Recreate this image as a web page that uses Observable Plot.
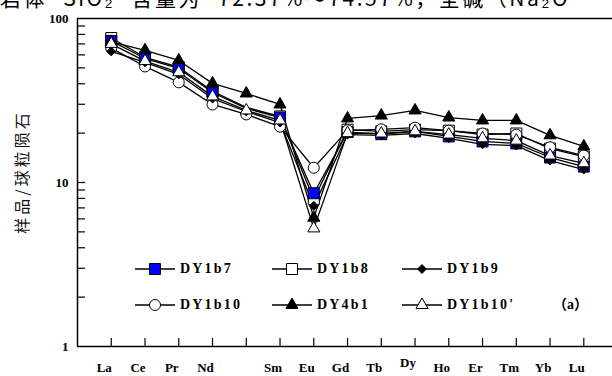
<!DOCTYPE html>
<html><head><meta charset="utf-8">
<script src="https://cdn.jsdelivr.net/npm/d3@7"></script>
<script src="https://cdn.jsdelivr.net/npm/@observablehq/plot@0.6"></script>
<style>
body{margin:0;background:#fff;}
#wrap{position:relative;width:612px;height:376px;overflow:hidden;background:#fff;}
#wrap svg.plot{position:absolute;left:0;top:0;}
.lab{position:absolute;font-family:"Liberation Serif","Times New Roman",serif;font-weight:bold;font-size:14px;letter-spacing:2.2px;line-height:20px;white-space:nowrap;color:#000;}
.sym{position:absolute;}
#header{position:absolute;left:0;top:-13px;font-family:"Noto Sans CJK SC",sans-serif;font-size:21px;line-height:21px;letter-spacing:2.5px;word-spacing:9px;white-space:nowrap;color:#000;}
#ytitle{position:absolute;left:21px;top:172px;transform:translate(-50%,-50%) rotate(-90deg);font-family:"Noto Sans CJK SC",sans-serif;font-size:16px;letter-spacing:3px;white-space:nowrap;color:#111;}
</style></head><body><div id="wrap"></div>
<script>
// ---- data ----
const elements = ["La","Ce","Pr","Nd","Pm","Sm","Eu","Gd","Tb","Dy","Ho","Er","Tm","Yb","Lu"];
const elementLabels = ["La","Ce","Pr","Nd","","Sm","Eu","Gd","Tb","Dy","Ho","Er","Tm","Yb","Lu"];
const seriesNames = ["DY1b7","DY1b8","DY1b9","DY1b10","DY4b1","DY1b10'"];
const DY1b7   = [73, 57, 49.6, 35.4, 28.3, 24.9, 8.6, 20.3, 19.7, 20.5, 19.1, 17.8, 17.3, 14.2, 12.5];
const DY1b8   = [76, 58, 50.5, 36.0, 28.7, 25.3, 7.9, 21.0, 20.5, 21.0, 20.7, 19.6, 19.9, 16.1, 14.4];
const DY1b9   = [63, 54, 45.6, 32.5, 27.1, 23.2, 7.2, 19.6, 19.4, 19.9, 18.6, 17.1, 16.8, 13.6, 12.0];
const DY1b10  = [66, 51, 40.8, 29.9, 26.0, 21.9, 12.3, 20.8, 21.1, 21.6, 20.7, 19.9, 19.6, 16.4, 14.6];
const DY4b1   = [72, 64, 55.5, 40.2, 34.9, 29.9, 6.1, 24.6, 25.6, 27.5, 24.9, 23.9, 23.9, 19.4, 16.6];
const DY1b10p = [70, 55, 47.0, 33.5, 27.5, 23.9, 5.25, 20.0, 19.9, 20.5, 19.6, 18.6, 18.0, 14.6, 13.1];
const seriesValues = [DY1b7, DY1b8, DY1b9, DY1b10, DY4b1, DY1b10p];
const yTickLabels = [1, 10, 100];
const yMinorTicks = [2,3,4,5,6,7,8,9,10,20,30,40,50,60,70,80,90];
const headerText = "岩体 SiO₂ 含量为 72.37%～74.57%，全碱（Na₂O";
const yTitle = "样品/球粒陨石";
const panelTag = "（a）";

// marker styles per series
const styles = {
  "DY1b7":  {symbol:"square",   fill:"#0000ff", stroke:"#000", r:6.2, skip:["Pm"]},
  "DY1b8":  {symbol:"square",   fill:"#fff",    stroke:"#000", r:6.2, skip:["Pm"]},
  "DY1b9":  {symbol:"diamond2", fill:"#000",    stroke:"#000", r:4.0, skip:[]},
  "DY1b10": {symbol:"circle",   fill:"#fff",    stroke:"#000", r:5.5, skip:[]},
  "DY4b1":  {symbol:"triangle", fill:"#000",    stroke:"#000", r:4.5, skip:[]},
  "DY1b10'":{symbol:"triangle", fill:"#fff",    stroke:"#000", r:4.5, skip:[]}
};
const drawOrder = ["DY1b8","DY1b7","DY1b10","DY1b9","DY4b1","DY1b10'"];

const rows = [];
seriesNames.forEach((s,i)=>seriesValues[i].forEach((v,j)=>rows.push({series:s, idx:j, el:elements[j], v})));

const W=612, H=376, mL=77, mT=18, mB=30, mR=0;
const innerW = W-mL-mR, innerH = H-mT-mB;
const serif = "Liberation Serif, Times New Roman, serif";

const labelRows = elementLabels.map((t,i)=>({t,i})).filter(d=>d.t!=="");
const marks = [
  Plot.ruleY([1,100], {y:d=>d, stroke:"#000", strokeWidth:1.5}),
  Plot.ruleX([-1], {x:d=>d, stroke:"#000", strokeWidth:1.5}),
  Plot.tickX(d3.range(elements.length), {x:d=>d, stroke:"#000", strokeWidth:1.2, insetTop: innerH-8}),
  Plot.tickY(yMinorTicks, {y:d=>d, stroke:"#000", strokeWidth:1.2, insetRight: innerW-8}),
  Plot.text(yTickLabels, {x:-1, y:d=>d, text:d=>String(d), textAnchor:"end", dx:-9, fontFamily:serif, fontWeight:"bold", fontSize:13}),
  Plot.text(labelRows.filter(d=>d.t!=="Dy"), {x:"i", y:1, text:"t", dx:-7, dy:21, fontFamily:serif, fontWeight:"bold", fontSize:13, letterSpacing:1}),
  Plot.text(labelRows.filter(d=>d.t==="Dy"), {x:"i", y:1, text:"t", dx:-7, dy:16, fontFamily:serif, fontWeight:"bold", fontSize:13, letterSpacing:1}),
  Plot.line(rows, {x:"idx", y:"v", z:"series", stroke:"#000", strokeWidth:1.3})
];
for (const s of drawOrder) {
  const st = styles[s];
  marks.push(Plot.dot(rows.filter(d=>d.series===s && !st.skip.includes(d.el)),
    {x:"idx", y:"v", symbol:()=>st.symbol, r:st.r, fill:st.fill, stroke:st.stroke, strokeWidth:1}));
}

const chart = Plot.plot({
  width:W, height:H, marginLeft:mL, marginRight:mR, marginTop:mT, marginBottom:mB,
  x:{type:"linear", domain:[-1,14.85], axis:null},
  y:{type:"log", domain:[1,100], axis:null},
  symbol:{type:"identity"},
  style:{background:"transparent", overflow:"visible"},
  marks
});
chart.classList.add("plot");
const wrap = document.getElementById("wrap");
wrap.appendChild(chart);

// header (clipped text from the page above the figure)
const hd = document.createElement("div"); hd.id="header"; hd.textContent = headerText; wrap.appendChild(hd);
// y title
const yt = document.createElement("div"); yt.id="ytitle"; yt.textContent = yTitle; wrap.appendChild(yt);

// legend
const symMap = {square:d3.symbolSquare, diamond2:d3.symbolDiamond2, circle:d3.symbolCircle, triangle:d3.symbolTriangle};
const legendCols = [135, 272, 402];
const legendRows = [269, 305];
seriesNames.forEach((s,i)=>{
  const st = styles[s];
  const cx = legendCols[i%3], cy = legendRows[Math.floor(i/3)];
  const svg = d3.create("svg").attr("class","sym").attr("width",44).attr("height",20)
    .style("left",cx+"px").style("top",(cy-10)+"px");
  svg.append("line").attr("x1",0).attr("x2",40).attr("y1",10).attr("y2",10).attr("stroke","#000").attr("stroke-width",1.3);
  svg.append("path").attr("transform","translate(20,10)")
    .attr("d", d3.symbol(symMap[st.symbol], Math.PI*st.r*st.r)())
    .attr("fill",st.fill).attr("stroke",st.stroke).attr("stroke-width",1);
  wrap.appendChild(svg.node());
  const t = document.createElement("div"); t.className="lab"; t.textContent = s;
  t.style.left=(cx+45)+"px"; t.style.top=(cy-10)+"px"; wrap.appendChild(t);
});
const tag = document.createElement("div"); tag.className="lab"; tag.textContent = panelTag;
tag.style.left="553px"; tag.style.top=(legendRows[1]-10)+"px"; tag.style.letterSpacing="0px";
tag.style.fontFamily = "'Liberation Serif','Noto Sans CJK SC',serif";
wrap.appendChild(tag);
</script></body></html>
